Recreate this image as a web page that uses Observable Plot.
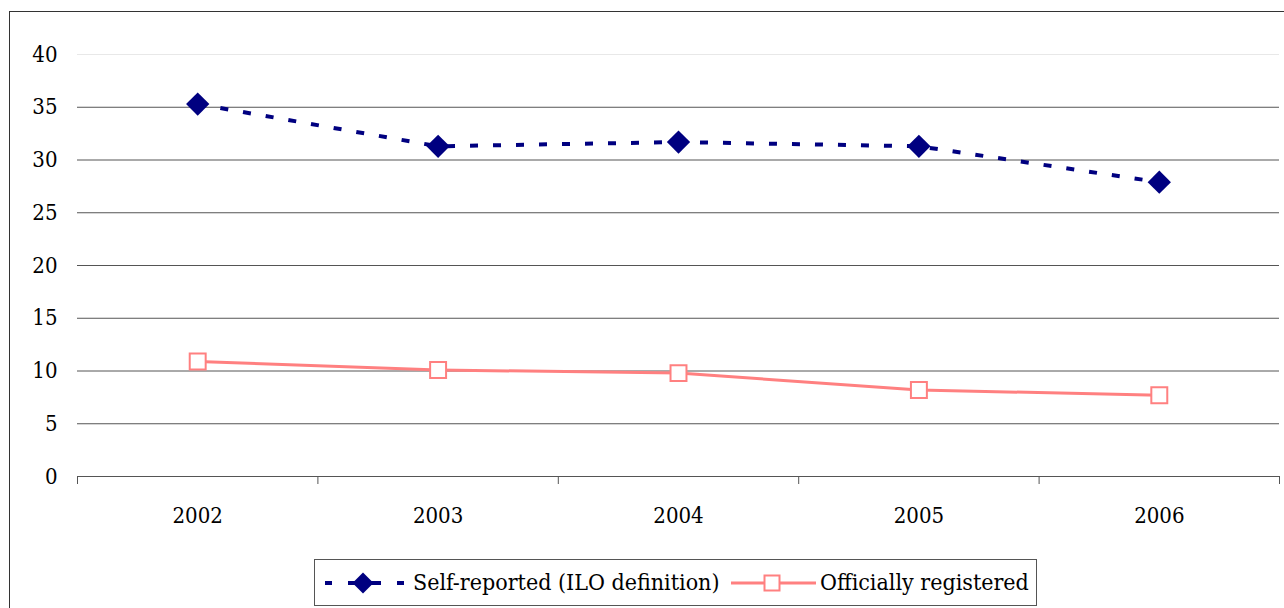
<!DOCTYPE html>
<html>
<head>
<meta charset="utf-8">
<script src="https://cdn.jsdelivr.net/npm/d3@7"></script>
<script src="https://cdn.jsdelivr.net/npm/@observablehq/plot@0.6"></script>
<style>
  html, body { margin: 0; padding: 0; background: #fff; overflow: hidden; }
  body { width: 1284px; height: 608px; position: relative; font-family: 'DejaVu Serif', serif; }
  #frame { position: absolute; left: 9px; top: 11px; width: 1300px; height: 700px; border: 1.5px solid #333; box-sizing: border-box; }
  #chart { position: absolute; left: 0; top: 0; }
  #legend { position: absolute; left: 314px; top: 559px; width: 723px; height: 47px; border: 1.5px solid #555; box-sizing: border-box; background: #fff; }
  .lt { position: absolute; top: 0; line-height: 44px; color: #000; white-space: nowrap; }
  .sw { position: absolute; top: 0; }
</style>
</head>
<body>
<div id="frame"></div>
<div id="chart"></div>
<div id="legend">
  <svg class="sw" style="left:0px" width="100" height="45">
    <line x1="10" x2="17" y1="23" y2="23" stroke="#000080" stroke-width="4"/>
    <line x1="33" x2="66" y1="23" y2="23" stroke="#000080" stroke-width="4"/>
    <line x1="82" x2="89" y1="23" y2="23" stroke="#000080" stroke-width="4"/>
    <path d="M48,12.5L58.5,23L48,33.5L37.5,23Z" fill="#000080"/>
  </svg>
  <div class="lt" style="left:98px; font-family: 'DejaVu Serif Condensed'; font-size: 23px">Self-reported (ILO definition)</div>
  <svg class="sw" style="left:410px" width="100" height="45">
    <line x1="6" x2="91" y1="23" y2="23" stroke="#FF8080" stroke-width="3"/>
    <rect x="39.5" y="15.5" width="15" height="15" fill="#fff" stroke="#FF8080" stroke-width="2"/>
  </svg>
  <div class="lt" style="left:505px; font-family: 'DejaVu Serif'; font-stretch: condensed; font-size: 23px">Officially registered</div>
</div>
<script>
const years = [2002, 2003, 2004, 2005, 2006];
const selfReported = [35.3, 31.3, 31.7, 31.3, 27.9];
const officiallyRegistered = [10.9, 10.1, 9.8, 8.2, 7.7];
const yTicks = [0, 5, 10, 15, 20, 25, 30, 35, 40];
const seriesNames = ["Self-reported (ILO definition)", "Officially registered"];

const selfData = years.map((y, i) => ({year: y, value: selfReported[i], series: seriesNames[0]}));
const offData = years.map((y, i) => ({year: y, value: officiallyRegistered[i], series: seriesNames[1]}));
const boundaries = years.map(y => y - 0.5).concat([years[years.length - 1] + 0.5]);
const gridDark = yTicks.filter(t => t > 0 && t < 40);
const gridLight = yTicks.filter(t => t === 40);

const font = "'DejaVu Serif Condensed', 'DejaVu Serif', serif";

const chart = Plot.plot({
  width: 1284,
  height: 545,
  marginLeft: 77,
  marginRight: 5,
  marginTop: 54,
  marginBottom: 69,
  style: {fontFamily: font, fontSize: "22px", background: "transparent", color: "#000"},
  x: {domain: [boundaries[0], boundaries[boundaries.length - 1]]},
  y: {domain: [0, 40]},
  marks: [
    Plot.ruleY(gridLight, {stroke: "#e8e8e8", strokeWidth: 1}),
    Plot.ruleY(gridDark, {stroke: "#555", strokeWidth: 1}),
    Plot.axisY({ticks: yTicks, tickSize: 0, tickPadding: 20, fontSize: 22, label: null, fill: "#000"}),
    Plot.axisX({ticks: years, tickSize: 0, tickPadding: 31, tickFormat: "d", fontSize: 22, label: null, fill: "#000"}),
    Plot.axisX({ticks: boundaries, tickSize: 8, tickFormat: () => "", label: null, stroke: "#555"}),
    Plot.ruleY([0], {stroke: "#555", strokeWidth: 1.2}),
    Plot.line(offData, {x: "year", y: "value", stroke: "#FF8080", strokeWidth: 3}),
    Plot.line(selfData, {x: "year", y: "value", stroke: "#000080", strokeWidth: 4, strokeDasharray: "8,15", strokeLinecap: "butt"}),
    Plot.dot(offData, {x: "year", y: "value", symbol: "square", r: 9, fill: "#fff", stroke: "#FF8080", strokeWidth: 2}),
    Plot.dot(selfData, {x: "year", y: "value", symbol: "diamond2", r: 10.5, fill: "#000080", stroke: "none"})
  ]
});
document.getElementById("chart").appendChild(chart);
</script>
</body>
</html>
